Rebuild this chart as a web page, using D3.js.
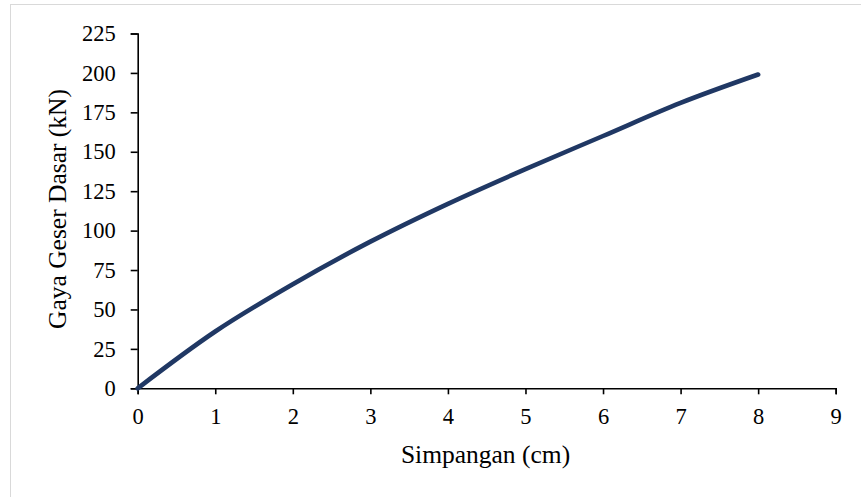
<!DOCTYPE html>
<html>
<head>
<meta charset="utf-8">
<script src="https://cdn.jsdelivr.net/npm/d3@7"></script>
<style>
  html, body { margin: 0; padding: 0; background: #fff; }
  svg { display: block; }
  text { font-family: "Liberation Serif", "Times New Roman", serif; fill: #000; }
</style>
</head>
<body>
<svg id="chart" width="861" height="497"></svg>
<script>
// Simpangan (cm) versus gaya geser dasar (kN)
const simpangan = [0, 1, 2, 3, 4, 5, 6, 7, 8];
const gayaGeser = [0, 36, 66, 93, 117, 139, 160, 181, 199];
const xTicks = [0, 1, 2, 3, 4, 5, 6, 7, 8, 9];
const yTicks = [0, 25, 50, 75, 100, 125, 150, 175, 200, 225];

const svg = d3.select("#chart");

// outer chart frame
svg.append("rect")
  .attr("x", 10.5).attr("y", 4.5)
  .attr("width", 900).attr("height", 600)
  .attr("fill", "none").attr("stroke", "#d9d9d9").attr("stroke-width", 1);

const x = d3.scaleLinear().domain([0, 9]).range([137.7, 835.7]);
const y = d3.scaleLinear().domain([0, 225]).range([388.3, 33.5]);

const xAxis = svg.append("g")
  .attr("transform", `translate(0,${y(0)})`)
  .call(d3.axisBottom(x).tickValues(xTicks).tickFormat(d3.format("d")).tickSizeOuter(0).tickSize(6).tickPadding(14));

const yAxis = svg.append("g")
  .attr("transform", `translate(${x(0)},0)`)
  .call(d3.axisLeft(y).tickValues(yTicks).tickFormat(d3.format("d")).tickSizeOuter(0).tickSize(7).tickPadding(15));

[xAxis, yAxis].forEach(g => {
  g.select(".domain").attr("stroke", "#000").attr("stroke-width", 1.6);
  g.selectAll(".tick line").attr("stroke", "#000").attr("stroke-width", 1.6);
  g.selectAll(".tick text").attr("font-size", 22.5).attr("font-family", "Liberation Serif");
});

// curve
const line = d3.line()
  .x((d, i) => x(simpangan[i]))
  .y(d => y(d))
  .curve(d3.curveMonotoneX);

svg.append("path")
  .datum(gayaGeser)
  .attr("d", line)
  .attr("fill", "none")
  .attr("stroke", "#203864")
  .attr("stroke-width", 4.6)
  .attr("stroke-linecap", "round")
  .attr("stroke-linejoin", "round");

// axis titles
svg.append("text")
  .attr("x", 485.5).attr("y", 463)
  .attr("text-anchor", "middle")
  .attr("font-size", 25.5)
  .text("Simpangan (cm)");

svg.append("text")
  .attr("transform", "translate(66,209) rotate(-90)")
  .attr("text-anchor", "middle")
  .attr("font-size", 25.5)
  .text("Gaya Geser Dasar (kN)");
</script>
</body>
</html>
